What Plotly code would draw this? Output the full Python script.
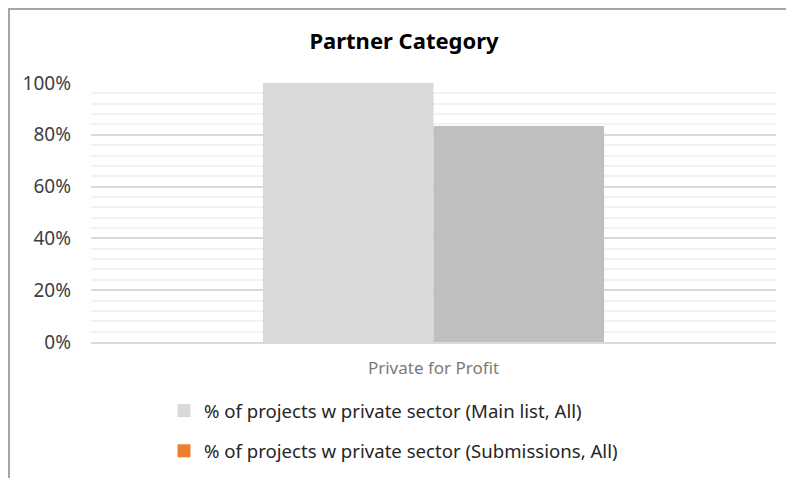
import plotly.graph_objects as go

categories = ["Private for Profit"]
series_names = [
    "% of projects w private sector (Main list, All)",
    "% of projects w private sector (Submissions, All)",
]
main_list = [1.00]
submissions = [0.834]
bar_colors = ["#d9d9d9", "#bfbfbf"]
legend_colors = ["#d9d9d9", "#ed7d31"]
y_ticks = [0, 0.2, 0.4, 0.6, 0.8, 1.0]
y_tick_labels = ["0%", "20%", "40%", "60%", "80%", "100%"]

W, H = 794, 478
OFF = 8  # page body margin offset
# target page-pixel positions of the plot area
PL, PR, PT, PB = 91, 776, 83, 342
L, T = PL - OFF, PT - OFF
pw, ph = PR - PL, PB - PT
R, B = W - L - pw, H - T - ph

def px_x(px):
    return (px - PL) / pw

def px_y(py):
    return (PB - py) / ph

def cx(px):
    return (px - OFF) / W

def cy(py):
    return 1 - (py - OFF) / H

fig = go.Figure()
for vals, name, col in zip([main_list, submissions], series_names, bar_colors):
    fig.add_trace(go.Bar(x=categories, y=vals, name=name, marker_color=col,
                         marker_line_width=0, showlegend=False))
for i, (name, col) in enumerate(zip(series_names, legend_colors)):
    fig.add_trace(go.Scatter(x=[None], y=[None], mode="markers", name=name,
                             legendgroup=f"g{i}",
                             marker=dict(symbol="square", size=13, color=col)))

font = "Noto Sans"
fig.update_layout(
    width=W, height=H,
    margin=dict(l=L, r=R, t=T, b=B, autoexpand=False),
    paper_bgcolor="white", plot_bgcolor="white",
    barmode="group", bargap=0.502, bargroupgap=0,
    title=dict(text="<b>Partner Category</b>", x=cx(404), xref="container",
               xanchor="center", y=cy(41), yref="container", yanchor="middle",
               font=dict(family=font, size=22, color="#000000"), automargin=False),
    font=dict(family=font, color="#404040"),
    legend=dict(x=cx(164), y=cy(392), xref="container", yref="container",
                xanchor="left", yanchor="top",
                orientation="v", tracegroupgap=13,
                font=dict(family=font, size=18.6, color="#262626"),
                bgcolor="rgba(0,0,0,0)"),
    showlegend=True,
)
fig.update_xaxes(showgrid=False, showline=True, linecolor="#d9d9d9", linewidth=2,
                 ticks="", tickfont=dict(family=font, size=17, color="#7a7a7a"),
                 ticklabelstandoff=10, fixedrange=True, automargin=False)
fig.update_yaxes(range=[0, 1.0], tickvals=y_ticks, ticktext=y_tick_labels,
                 showgrid=True, gridcolor="#d9d9d9", gridwidth=2,
                 minor=dict(dtick=0.04, showgrid=True, gridcolor="#f2f2f2", gridwidth=2),
                 zeroline=False, showline=False, ticks="",
                 tickfont=dict(family=font, size=19, color="#404040"),
                 ticklabelstandoff=19, fixedrange=True, automargin=False)

# chart frame (top and left border)
fig.add_shape(type="line", xref="paper", yref="paper",
              x0=px_x(9), x1=px_x(9), y0=px_y(490), y1=px_y(9),
              line=dict(color="#a6a6a6", width=2))
fig.add_shape(type="line", xref="paper", yref="paper",
              x0=px_x(8), x1=px_x(810), y0=px_y(9), y1=px_y(9),
              line=dict(color="#a6a6a6", width=2))

fig.write_html("out.html")
